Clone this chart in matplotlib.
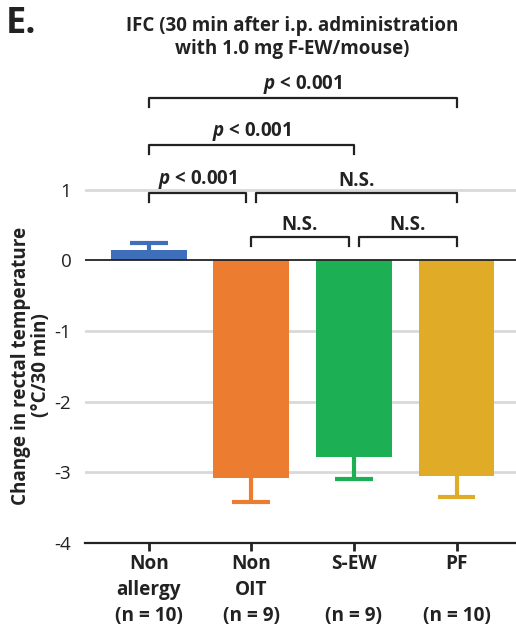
import matplotlib
matplotlib.use("Agg")
import matplotlib.pyplot as plt
import numpy as np

plt.rcParams['font.family'] = ['Open Sans', 'DejaVu Sans']
plt.rcParams['mathtext.fontset'] = 'custom'
plt.rcParams['mathtext.bfit'] = 'Open Sans:italic:bold'
plt.rcParams['mathtext.bf'] = 'Open Sans:bold'
plt.rcParams['mathtext.rm'] = 'Open Sans'

# data
groups = ["Non\nallergy\n(n = 10)", "Non\nOIT\n(n = 9)", "S-EW\n\n(n = 9)", "PF\n\n(n = 10)"]
means = [0.15, -3.08, -2.78, -3.05]
errs = [0.10, 0.34, 0.32, 0.30]
colors = ["#3F6EBA", "#EC7D30", "#1DAF54", "#E0AB26"]

# brackets: (left, right, height, label)
brackets = [
    (0, 3, 2.29, r"$\mathbfit{p}$ < 0.001"),
    (0, 2, 1.63, r"$\mathbfit{p}$ < 0.001"),
    (0, 0.95, 0.95, r"$\mathbfit{p}$ < 0.001"),
    (1.05, 3, 0.95, "N.S."),
    (1, 1.95, 0.33, "N.S."),
    (2.05, 3, 0.33, "N.S."),
]

fig = plt.figure(figsize=(5.16, 6.30), dpi=100)
ax = fig.add_axes([0.165, 0.138, 0.835, 0.752])

x = np.arange(len(groups))
ax.bar(x, means, width=0.74, color=colors, zorder=3)
for xi, m, e, c in zip(x, means, errs, colors):
    end = m + e if m > 0 else m - e
    ax.vlines(xi, m, end, color=c, lw=3, zorder=2)
    ax.hlines(end, xi - 0.185, xi + 0.185, color=c, lw=3, zorder=2)

ax.set_ylim(-4, 2.7)
ax.set_xlim(-0.62, 3.58)
ax.set_yticks([-4, -3, -2, -1, 0, 1])
ax.set_yticklabels(["-4", "-3", "-2", "-1", "0", "1"])
for yv in [-3, -2, -1, 1]:
    ax.axhline(yv, color="#d9d9d9", lw=2, zorder=1)
ax.axhline(0, color="#222222", lw=1.3, zorder=4)

for s in ["top", "right", "left"]:
    ax.spines[s].set_visible(False)
ax.spines["bottom"].set_position(("data", -4))
ax.spines["bottom"].set_linewidth(1.6)
ax.spines["bottom"].set_color("#222222")
ax.tick_params(axis="y", length=0, labelsize=13.5, pad=10, colors="#222222")
ax.tick_params(axis="x", length=6, width=2, direction="out", colors="#222222",
               labelsize=13.7, pad=2)
ax.set_xticks(x)
ax.set_xticklabels(groups, fontweight="bold", linespacing=1.38)

for l, r, h, lab in brackets:
    ax.plot([l, l, r, r], [h - 0.13, h, h, h - 0.13], color="#222222", lw=1.6,
            clip_on=False)
    ax.text((l + r) / 2, h + 0.03, lab, ha="center", va="bottom",
            fontsize=13.5, fontweight="bold", color="#222222")

ax.set_ylabel("Change in rectal temperature\n(°C/30 min)", fontsize=13.6,
              fontweight="bold", linespacing=1.0, color="#222222")
ax.yaxis.set_label_coords(-0.08, 0.375)

fig.text(0.566, 0.975, "IFC (30 min after i.p. administration\nwith 1.0 mg F-EW/mouse)",
         ha="center", va="top", fontsize=13.5, fontweight="bold", linespacing=1.2,
         color="#222222")
fig.text(0.012, 0.99, "E.", ha="left", va="top", fontsize=26, fontweight="bold",
         color="#222222")

fig.savefig("out.png", dpi=100)
